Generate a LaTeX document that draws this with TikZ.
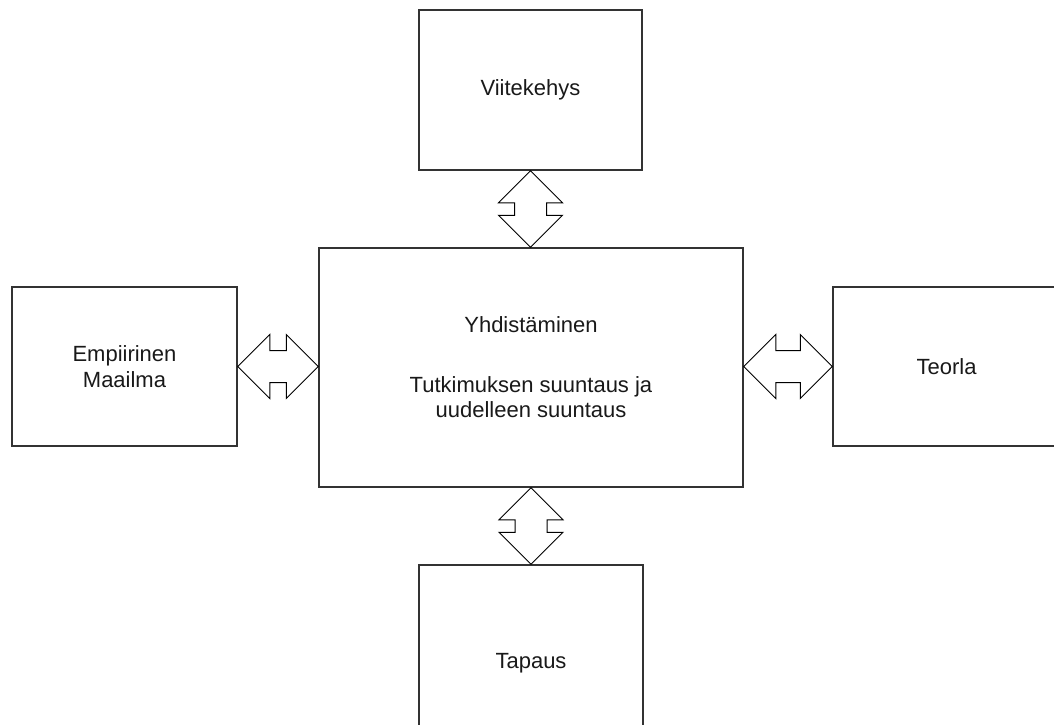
\documentclass[tikz,border=0pt]{standalone}
\usepackage{fontspec}
\setmainfont{Liberation Sans}
\usetikzlibrary{calc}
\begin{document}
\begin{tikzpicture}[x=1pt,y=-1pt,
  box/.style={draw=black!80, line width=1.5pt, rectangle, inner sep=0pt,
    align=center, text=black!90, font=\fontsize{22}{25.5}\selectfont},
  lbl/.style={inner sep=0pt, align=center, text=black!90, font=\fontsize{22}{25.5}\selectfont},
  fatarrow/.style={draw=black, line width=1pt, line join=miter, to path={
    -- ($($(\tikztostart)!32pt!(\tikztotarget)$)!32pt!90:(\tikztotarget)$)
    -- ($($(\tikztostart)!32pt!(\tikztotarget)$)!16pt!90:(\tikztotarget)$)
    -- ($($(\tikztotarget)!32pt!(\tikztostart)$)!16pt!-90:(\tikztostart)$)
    -- ($($(\tikztotarget)!32pt!(\tikztostart)$)!32pt!-90:(\tikztostart)$)
    -- (\tikztotarget)
    -- ($($(\tikztotarget)!32pt!(\tikztostart)$)!32pt!90:(\tikztostart)$)
    -- ($($(\tikztotarget)!32pt!(\tikztostart)$)!16pt!90:(\tikztostart)$)
    -- ($($(\tikztostart)!32pt!(\tikztotarget)$)!16pt!-90:(\tikztotarget)$)
    -- ($($(\tikztostart)!32pt!(\tikztotarget)$)!32pt!-90:(\tikztotarget)$)
    -- cycle}}
]
\useasboundingbox (0,0) rectangle (1054,724);
\begin{scope}
\clip (0,0) rectangle (1054,724);
\node[box, minimum width=223pt, minimum height=160pt] (top) at (530.5,90) {Viitekehys};
\node[box, minimum width=424pt, minimum height=239pt] (main) at (531,367.5)
  {Yhdistäminen\\[34pt]Tutkimuksen suuntaus ja\\uudelleen suuntaus};
\node[box, minimum width=225pt, minimum height=159pt] (left) at (124.5,366.5) {Empiirinen\\Maailma};
\node[box, minimum width=227pt, minimum height=159pt] (right) at (946.5,366.5) {Teorla};
\node[box, minimum width=224pt, minimum height=195pt] (bottom) at (531,662.5) {};
\node[lbl] (tapaus) at (531,663) {Tapaus};

\coordinate (mtop) at (top.south |- main.north);
\coordinate (mbot) at (bottom.north |- main.south);
\coordinate (mleft) at (left.east -| main.west);
\coordinate (mright) at (main.east |- right.west);

\draw[fatarrow] (top.south) to (mtop);
\draw[fatarrow] (mbot) to (bottom.north);
\draw[fatarrow] (left.east) to (mleft);
\draw[fatarrow] (mright) to (right.west);
\end{scope}
\end{tikzpicture}
\end{document}
